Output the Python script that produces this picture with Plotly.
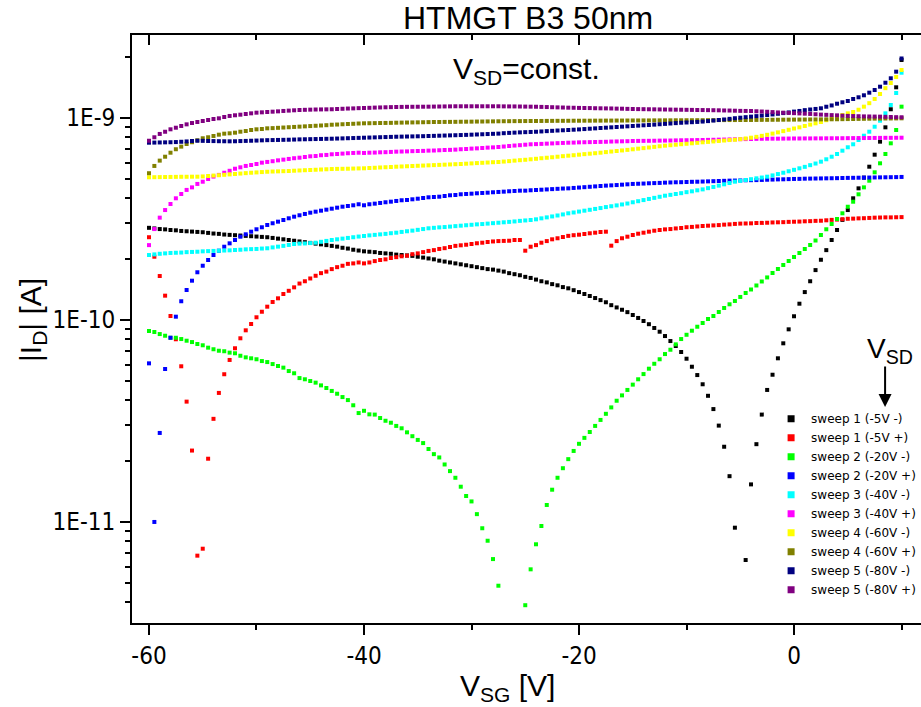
import plotly.graph_objects as go

# Gate voltage sweep grid (V), 0.5 V steps from -60 V to +10 V
vsg = [-60 + 0.5 * i for i in range(141)]

# |I_D| values in pA (1e-12 A); None = point not shown
sweep1_minus = [285, 283, 281, 280, 278, 277, 275, 274, 273, 272,
                271, 269, 267, 266, 264, 263, 262, 261, 260, 259,
                258, 257, 256, 254, 252, 250, 248, 246, 244, 242,
                240, 238, 236, 234, 232, 230, 227, 225, 222, 220,
                218, 217, 216, 214, 213, 212, 210, 209, 208, 207,
                205, 203, 201, 199, 196, 194, 192, 190, 188, 186,
                184, 182, 180, 178, 177, 175, 173, 170, 168, 166,
                163, 161, 158, 155, 153, 150, 148, 145, 143, 140,
                137, 134, 131, 128, 125, 122, 118, 115, 112, 109,
                105.5, 102, 98.5, 95, 91, 87.2, 83.0, 78.4, 74.1, 69.2,
                64.1, 58.5, 53.2, 47.9, 42.0, 36.1, 29.9, 23.5, 16.8, 9.34,
                None, 6.46, 15.3, 24.2, 33.9, 44.9, 53.4, 64.4, 76.4, 89.6,
                104, 120, 137, 155, 176, 198, 221, 248, 278, 312,
                349, 399, 447, 505, 572, 656, 761, 896, 1101, 1414,
                1931]

sweep1_plus = [256, 205, 164.5, 131.5, 104.3, 80.0, 58.8, 39.3, 22.5, 6.79,
               7.35, 20.5, 32.3, 43.4, 53.7, 63.2, 72.2, 80.9, 88.6, 95.2,
               102.8, 109.5, 116, 122.4, 127.6, 134, 139, 144.6, 151, 155,
               160, 165, 170, 173, 178, 182, 185, 189, 190, 192,
               190, 192, 195, 197.5, 199, 202, 204, 206, 207.5, 211,
               213, 216, 219, 221, 224, 226, 229, 232, 233.5, 235,
               237, 239, 240.5, 242.5, 244, 245, 245.5, 246, 248, 248,
               219.6, 229.8, 234, 240.5, 245, 250, 253, 256.6, 260, 262,
               263.5, 265.6, 267.8, 269.6, 271.8, 272.7, 232.5, 245, 253, 257.6,
               262.6, 266.5, 269.6, 272.7, 275.8, 278, 280, 281, 283, 284.5,
               287, 288, 289.5, 291, 292, 293, 294, 295.5, 296.5, 298,
               299, 299.5, 300, 301, 301.5, 302, 303, 303.5, 304, 305,
               305.5, 306, 307, 307.5, 308.5, 309, 310.5, 312, 313, 314.5,
               316, 316.5, 317.5, 318, 319, 320, 320.5, 321, 321, 321.5,
               322]

sweep2_minus = [87.9, 86.9, 84.9, 83.3, 81.4, 81.4, 80.2, 78.7, 77.5, 75.8,
                74.7, 72.7, 71.4, 70.2, 69.8, 68.7, 68.2, 66.3, 65.1, 64.4,
                63.7, 62.4, 61.7, 60.3, 59.0, 57.9, 55.7, 54.3, 51.4, 50.7,
                49.7, 48.8, 47.3, 45.9, 44.4, 43.0, 41.4, 40.0, 37.7, 34.5,
                35.4, 34.0, 33.9, 32.6, 31.6, 30.9, 29.8, 29.0, 27.7, 26.5,
                25.4, 24.5, 22.9, 21.6, 20.8, 19.2, 17.8, 16.5, 14.9, 13.4,
                12.6, 10.9, 9.28, 8.05, 6.53, 4.82, None, None, None, None,
                3.86, 5.81, 7.73, 9.52, 12.1, 14.4, 16.5, 18.4, 20.4, 22.4,
                24.3, 26.0, 27.8, 29.8, 31.9, 34.2, 36.8, 39.7, 42.2, 44.9,
                47.7, 50.7, 53.8, 57.2, 60.5, 63.7, 67.6, 71.0, 75.5, 80.2,
                84.2, 88.2, 92.3, 96.3, 100.8, 104.3, 109.2, 114.3, 119.2, 123.8,
                129.6, 135.6, 141.1, 147.7, 154.6, 161.9, 170.3, 178.3, 186.6, 195.3,
                204.4, 213.9, 223.9, 234.3, 246.6, 262.6, 280.3, 297.6, 315.1, 336.3,
                362.4, 383.8, 417.6, 452.0, 487.6, 536.6, 594.6, 661.3, 746.8, 869,
                1134]

sweep2_plus = [60.8, 9.97, 27.5, 57.0, 81.4, 103.5, 123.4, 140.3, 156.0, 171.7,
               185.0, 197.5, 209.1, 219.6, 229.8, 238.8, 248.1, 257.6, 264.7, 272.7,
               280.3, 286.8, 294.4, 300.2, 305.7, 311.6, 317.7, 323.6, 328.8, 333.8,
               338.7, 342.6, 346.5, 350.5, 354.5, 358.6, 362.7, 365.6, 368.5, 372.8,
               368.5, 372.8, 375.4, 378.4, 381.4, 384.0, 387.1, 390.2, 391.5, 394.5,
               397.2, 400.4, 403.6, 405, 406.4, 409.7, 413, 414.4, 417.7, 419.2,
               420.6, 422.5, 424, 425.4, 427.4, 428.9, 430.4, 432.3, 433.8, 435.3,
               435.3, 437.3, 438.5, 440, 441.5, 443, 444.5, 446, 447, 449,
               451, 453, 455, 457, 459, 461, 462.5, 464, 466, 468,
               470, 471, 472, 473.5, 474.5, 475.5, 477, 478, 479, 479.5,
               480.5, 481.5, 482, 483, 484, 485, 486, 487, 488, 488.5,
               489, 490, 490.5, 491, 492, 493, 494, 495, 495.5, 496.5,
               497.5, 498, 499, 499.5, 500, 500.5, 501, 501.5, 502, 503,
               503.5, 504, 504.5, 505, 505.5, 506, 506.5, 507, 507.5, 508,
               509]

sweep3_minus = [209, 210.5, 212, 213, 214, 214.5, 215, 216, 216.5, 217,
                218, 218.5, 219, 219.5, 220, 220.5, 221.3, 222, 223, 223.5,
                224, 225, 225.7, 228, 230, 232, 234.5, 237, 238, 238.5,
                239.5, 240.5, 243, 245.5, 248, 250, 252, 254, 256, 258,
                259.7, 261.5, 263, 264.5, 266, 268, 269.6, 272, 274, 276,
                278.5, 281, 283.5, 285, 286.5, 287.5, 289, 290.5, 292, 293.5,
                295, 296.5, 297.5, 299, 300.5, 302, 303.5, 305, 306.5, 308.5,
                310, 311.6, 314, 317.5, 321, 324.5, 328, 332, 336.3, 339.5,
                343, 346.5, 350, 353.5, 357, 361, 364.5, 368, 372, 376,
                381.4, 386, 391, 396, 401, 406, 411, 415, 419, 423,
                428, 432, 437, 441.7, 448, 454, 461, 468, 475, 482.3,
                487, 491.5, 496, 501, 505.5, 510.5, 518, 526, 534, 543,
                552, 561.6, 571, 582, 593, 605.7, 622.5, 641, 661, 686.6,
                713.8, 738.5, 775.6, 814.5, 852.5, 902.4, 966.3, 1051, 1156, 1325,
                1670]

sweep3_plus = [234, 281, 320, 349, 374, 399, 419, 439, 452, 470,
               482, 497, 511, 521, 534, 546, 559, 568, 577, 583,
               590, 599, 604, 609, 615, 620, 625, 630, 634, 639,
               644, 646, 652, 654, 659, 661, 664, 667, 669, 671,
               669, 671, 672, 674, 675, 677, 679, 680, 681, 683,
               684, 685, 687, 688, 690, 692, 693, 695, 698, 700,
               703, 705, 708, 711, 713, 716, 720, 724, 728, 731,
               735, 738.5, 740, 742, 744, 746, 748, 750, 752, 753,
               755, 756, 757, 758, 759, 760, 762, 763, 764, 765,
               767, 767.5, 768, 768.5, 769, 770, 770.5, 771, 772, 773,
               773.5, 774, 775, 775.6, 776.5, 777.5, 778.5, 779.5, 780.5, 781.5,
               782.5, 783.5, 784.5, 785.5, 786.5, 787, 787.5, 787.5, 788, 788.5,
               789, 789, 789.5, 789.5, 790, 790, 790.5, 791, 791, 791.5,
               792, 792.5, 793, 793, 793.5, 794, 794.5, 795, 795, 795.5,
               796]

sweep4_minus = [507, 507.5, 508, 508.5, 509, 509.5, 510, 510, 510.5, 510.5,
                512, 514.5, 517, 519, 521.5, 524, 526.5, 529, 531.5, 534,
                536, 538, 540, 541.5, 542.5, 543.5, 544.5, 546.5, 548, 549.5,
                551, 552.5, 554, 555.5, 557, 558, 558.5, 559, 560, 561,
                561.7, 563.5, 565, 567, 568.5, 570, 572, 573.5, 575, 576.5,
                578, 579.5, 581, 582.5, 584, 585.5, 587, 588.5, 590, 592,
                594, 596, 598, 600, 602, 603.6, 606.5, 609.5, 613, 616,
                619, 622.4, 626, 630, 633.5, 637, 641, 645, 648.5, 652,
                656, 660, 663.5, 667, 671, 675.5, 680, 684, 688.5, 693,
                697.6, 702.5, 707, 712, 717, 722, 727, 731, 735, 739,
                743, 747, 751, 755.5, 759, 763, 767, 771, 775, 778,
                783, 789, 796, 804, 813, 823, 834, 846, 858, 871,
                884, 896, 910, 924, 938, 952, 972, 993, 1012, 1031,
                1051, 1067, 1095, 1134, 1180, 1238, 1310, 1400, 1485, 1591,
                1723]

sweep4_plus = [531, 577, 613, 641, 671, 698, 719, 741, 756, 773,
               791, 800, 812, 824, 833.5, 837, 843, 852.5, 859, 869,
               876, 879, 886, 888, 891, 894, 897, 900, 903, 906,
               909, 912, 915, 918, 923, 925, 928, 931, 933, 936,
               938, 939, 940, 941, 942, 943, 944.5, 945.5, 946.5, 947.5,
               948.5, 949.5, 951, 952, 952.5, 953, 953.5, 954, 955, 955.5,
               956, 957, 957.5, 958.5, 959, 960, 960.5, 961, 961.5, 962,
               962.5, 963, 963, 963.5, 964, 964.5, 965, 965, 965.5, 966,
               966, 966.5, 966.5, 967, 967, 967.5, 967.5, 968, 968, 968.5,
               969, 969, 969.5, 969.5, 970, 970, 970.5, 970.5, 971, 971,
               971.5, 971.5, 972, 972, 972.5, 972.5, 973, 973, 973.5, 973.5,
               974, 974, 974.5, 975, 975.5, 976, 976.5, 977, 977.5, 978,
               978.5, 979, 979.5, 980, 980.5, 981, 981.5, 982, 982.5, 983.5,
               984.5, 985.5, 986.5, 987.5, 988.5, 989.5, 990, 991, 991.5, 992,
               993]

sweep5_minus = [752, 753, 754, 755, 756, 757.5, 760, 763, 767, 769,
                768, 767, 766, 765, 764.5, 764, 764.5, 766, 767.5, 769,
                770.5, 772.5, 774, 775, 776, 777, 778, 779.5, 781, 782,
                783, 784, 785, 786, 787, 788.5, 790, 791.5, 793, 794.5,
                796, 797.5, 799, 800.5, 802, 803.5, 805, 806, 807, 808,
                809, 810, 811.5, 813, 814.5, 816, 817.5, 819, 820.5, 822,
                824, 826, 828, 830, 832, 834, 838, 841, 843.5, 846,
                848, 850, 852, 855, 858, 861, 864, 866.5, 869, 872,
                875, 878.5, 882, 885.5, 889, 892.5, 896, 899.5, 903, 906.5,
                910, 913.5, 917, 920.5, 924, 928, 932, 936, 940, 944,
                947, 950, 953, 957, 962, 968, 974, 980, 987, 994,
                1000, 1006, 1012, 1018, 1024, 1031, 1038, 1046, 1054, 1062,
                1072, 1080, 1090, 1098, 1105, 1113, 1133, 1150, 1173, 1192,
                1210, 1238, 1262, 1291, 1330, 1371, 1424, 1490, 1567, 1690,
                1964]

sweep5_plus = [769, 800, 831, 852, 876, 892, 910, 927, 941, 952,
               963, 974, 985, 993, 1008, 1020, 1028, 1035, 1043, 1051,
               1059, 1063, 1067, 1071, 1075, 1080, 1084, 1088, 1092, 1094,
               1096, 1098, 1099, 1100, 1101, 1104, 1107, 1110, 1112, 1115,
               1117, 1119, 1122, 1124, 1126, 1128, 1130, 1131, 1132, 1132.5,
               1133, 1133.5, 1134, 1135, 1136, 1137, 1138, 1139, 1139, 1139,
               1139, 1139, 1139, 1139, 1139, 1139, 1138, 1137.5, 1137, 1136,
               1135, 1134, 1133, 1131, 1129, 1127, 1125, 1123, 1121, 1120,
               1118, 1117, 1116, 1114, 1113, 1112, 1111, 1109, 1108, 1106,
               1104, 1103, 1102, 1101, 1100, 1099, 1098, 1097, 1096, 1095,
               1094, 1093, 1092, 1091, 1090, 1089, 1088, 1086, 1085, 1083,
               1081, 1080, 1079, 1076, 1073, 1070, 1066, 1062, 1059, 1056,
               1053, 1050, 1047, 1044, 1040, 1036, 1033, 1030, 1027, 1024,
               1021, 1019, 1017, 1015, 1014, 1013, 1012, 1010, 1008, 1006,
               1005]

series_names = ["sweep 1 (-5V -)", "sweep 1 (-5V +)", "sweep 2 (-20V -)", "sweep 2 (-20V +)",
                "sweep 3 (-40V -)", "sweep 3 (-40V +)", "sweep 4 (-60V -)", "sweep 4 (-60V +)",
                "sweep 5 (-80V -)", "sweep 5 (-80V +)"]
series_colors = ["#000000", "#FF0000", "#00FF00", "#0000FF", "#00FFFF",
                 "#FF00FF", "#FFFF00", "#808000", "#000080", "#800080"]
series_values = [sweep1_minus, sweep1_plus, sweep2_minus, sweep2_plus, sweep3_minus,
                 sweep3_plus, sweep4_minus, sweep4_plus, sweep5_minus, sweep5_plus]

y_tickvals = [1e-11, 1e-10, 1e-9]
y_ticktext = ["1E-11", "1E-10", "1E-9"]
x_tickvals = [-60, -40, -20, 0]
x_minorvals = [-50, -30, -10, 10]
y_minorvals = [m * 10.0 ** e for e in (-12, -11, -10, -9) for m in range(2, 10)]

ARIAL = "Liberation Sans, Arial, sans-serif"
TICKFONT = dict(family="DejaVu Sans Condensed, DejaVu Sans, sans-serif", size=24, color="black")

fig = go.Figure()
for name, color, vals in zip(series_names, series_colors, series_values):
    fig.add_trace(go.Scatter(
        x=vsg, y=[v * 1e-12 if v is not None else None for v in vals],
        mode="markers", name=name, showlegend=False,
        marker=dict(symbol="square", size=4, color=color, line=dict(width=0)),
    ))
# legend entries (bigger symbols, as in the original legend)
for name, color in zip(series_names, series_colors):
    fig.add_trace(go.Scatter(
        x=[None], y=[None], xaxis="x2", mode="markers", name=name, showlegend=True,
        marker=dict(symbol="square", size=7, color=color, line=dict(width=0)),
    ))

x_range = [-61.58, 11.81]
fig.update_layout(
    width=921, height=707,
    margin=dict(l=132, r=0, t=35, b=84, autoexpand=False),
    paper_bgcolor="white", plot_bgcolor="white",
    showlegend=True,
    legend=dict(x=0.81, y=0.372, xanchor="left", yanchor="top",
                font=dict(family="DejaVu Sans, sans-serif", size=12, color="black"),
                bgcolor="rgba(0,0,0,0)", borderwidth=0, tracegroupgap=0, itemwidth=30),
    xaxis=dict(range=x_range, showgrid=False, zeroline=False, showline=True,
               linecolor="black", linewidth=2, ticks="outside", ticklen=10, tickwidth=2,
               tickcolor="black", tickmode="array", tickvals=x_tickvals,
               ticktext=[str(v) for v in x_tickvals], tickfont=TICKFONT,
               minor=dict(tickmode="array", tickvals=x_minorvals, ticks="outside",
                          ticklen=5, tickwidth=2, tickcolor="black", showgrid=False)),
    xaxis2=dict(range=x_range, overlaying="x", side="top", showgrid=False, zeroline=False,
                showline=True, linecolor="black", linewidth=2, ticks="inside", ticklen=10,
                tickwidth=2, tickcolor="black", tickmode="array", tickvals=x_tickvals,
                showticklabels=False,
                minor=dict(tickmode="array", tickvals=x_minorvals, ticks="inside",
                           ticklen=5, tickwidth=2, tickcolor="black", showgrid=False)),
    yaxis=dict(type="log", range=[-11.5015, -8.5906], showgrid=False, zeroline=False,
               showline=True, linecolor="black", linewidth=2, ticks="outside", ticklen=10,
               tickwidth=2, tickcolor="black", tickmode="array", tickvals=y_tickvals,
               ticktext=y_ticktext, tickfont=TICKFONT,
               minor=dict(tickmode="array", tickvals=y_minorvals, ticks="outside",
                          ticklen=5, tickwidth=2, tickcolor="black", showgrid=False)),
    annotations=[
        dict(text="HTMGT B3 50nm", xref="paper", yref="paper", x=0.502, y=1.029,
             xanchor="center", yanchor="middle", showarrow=False,
             font=dict(family=ARIAL, size=32, color="black")),
        dict(text="V<sub>SD</sub>=const.", xref="paper", yref="paper", x=0.5006, y=0.94,
             xanchor="center", yanchor="middle", showarrow=False,
             font=dict(family=ARIAL, size=30, color="black")),
        dict(text="V<sub>SD</sub>", xref="paper", yref="paper", x=0.9607, y=0.464,
             xanchor="center", yanchor="middle", showarrow=False,
             font=dict(family=ARIAL, size=28, color="black")),
        dict(text="", xref="x", yref="y", x=8.47, y=-10.432, ax=0, ay=-42,
             showarrow=True, arrowhead=2, arrowsize=1.3, arrowwidth=2, arrowcolor="black"),
        dict(text="|I<sub>D</sub>| [A]", xref="paper", yref="paper", x=-0.127, y=0.515,
             xanchor="center", yanchor="middle", textangle=-90, showarrow=False,
             font=dict(family=ARIAL, size=30, color="black")),
        dict(text="V<sub>SG</sub> [V]", xref="paper", yref="paper", x=0.4753, y=-0.1105,
             xanchor="center", yanchor="middle", showarrow=False,
             font=dict(family=ARIAL, size=30, color="black")),
    ],
)

fig.write_html("out.html", config={"displayModeBar": False},
               post_script="document.body.style.margin='0';")
